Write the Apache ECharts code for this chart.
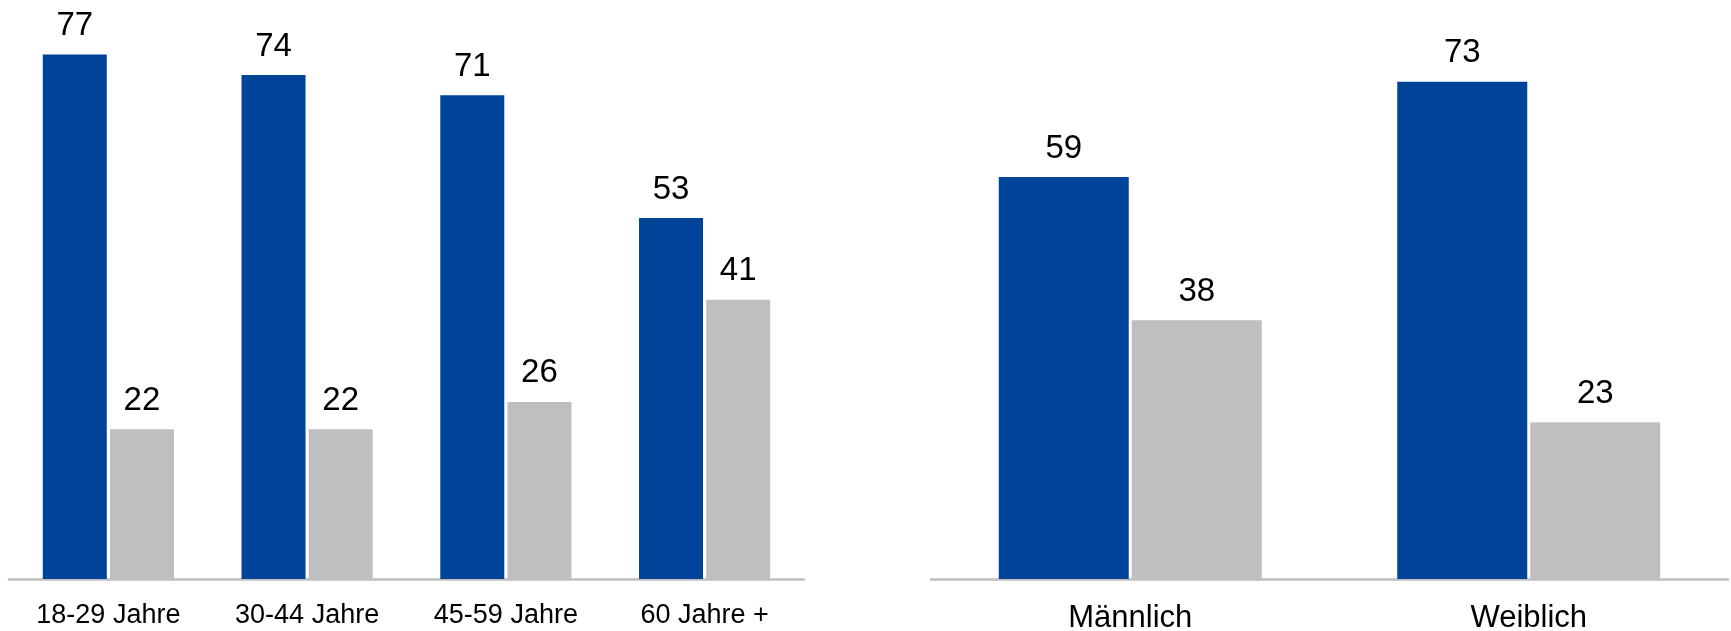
<!DOCTYPE html>
<html>
<head>
<meta charset="utf-8">
<script src="https://cdn.jsdelivr.net/npm/echarts@6/dist/echarts.min.js"></script>
<style>
  html, body { margin: 0; padding: 0; background: #fff; }
  #main { width: 1731px; height: 631px; }
</style>
</head>
<body>
<div id="main"></div>
<script>
// Altersgruppen
var ageCats = ["18-29 Jahre", "30-44 Jahre", "45-59 Jahre", "60 Jahre +"];
var ageBlue = [77, 74, 71, 53];
var ageGray = [22, 22, 26, 41];
// Geschlecht
var sexCats = ["Männlich", "Weiblich"];
var sexBlue = [59, 73];
var sexGray = [38, 23];

var BLUE = "#00449a";
var GRAY = "#bfbfbf";
var FONT = "Liberation Sans, Arial, sans-serif";

var chart = echarts.init(document.getElementById("main"));

function valLabel() {
  return {
    show: true,
    position: "top",
    distance: 12,
    color: "#000",
    fontSize: 33,
    fontFamily: FONT
  };
}

function xAx(idx, cats, size, margin) {
  return {
    type: "category",
    gridIndex: idx,
    data: cats,
    axisLine: { show: true, lineStyle: { color: GRAY, width: 2.5 } },
    axisTick: { show: false },
    axisLabel: { color: "#000", fontSize: size, fontFamily: FONT, margin: margin, interval: 0 }
  };
}

function yAx(idx) {
  return {
    type: "value",
    gridIndex: idx,
    min: 0,
    max: 85,
    show: false,
    splitLine: { show: false }
  };
}

var option = {
  animation: false,
  grid: [
    { left: 9, width: 795, top: 0, height: 579, outerBoundsMode: "none" },
    { left: 931, width: 797, top: 0, height: 579, outerBoundsMode: "none" }
  ],
  xAxis: [xAx(0, ageCats, 27, 23), xAx(1, sexCats, 31, 24)],
  yAxis: [yAx(0), yAx(1)],
  series: [
    {
      name: "blau",
      type: "bar",
      xAxisIndex: 0,
      yAxisIndex: 0,
      barWidth: 64,
      barGap: "5%",
      itemStyle: { color: BLUE },
      label: valLabel(),
      data: ageBlue
    },
    {
      name: "grau",
      type: "bar",
      xAxisIndex: 0,
      yAxisIndex: 0,
      barWidth: 64,
      barGap: "5%",
      itemStyle: { color: GRAY },
      label: valLabel(),
      data: ageGray
    },
    {
      name: "blau",
      type: "bar",
      xAxisIndex: 1,
      yAxisIndex: 1,
      barWidth: 130,
      barGap: "2.3%",
      itemStyle: { color: BLUE },
      label: valLabel(),
      data: sexBlue
    },
    {
      name: "grau",
      type: "bar",
      xAxisIndex: 1,
      yAxisIndex: 1,
      barWidth: 130,
      barGap: "2.3%",
      itemStyle: { color: GRAY },
      label: valLabel(),
      data: sexGray
    }
  ]
};

chart.setOption(option);
</script>
</body>
</html>
